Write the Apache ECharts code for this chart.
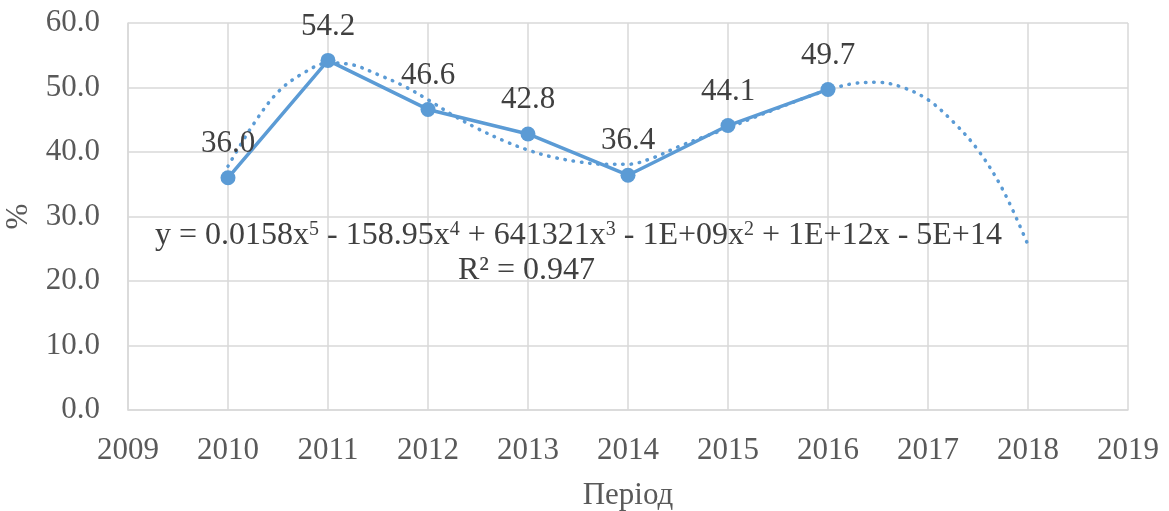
<!DOCTYPE html>
<html>
<head>
<meta charset="utf-8">
<script src="https://cdn.jsdelivr.net/npm/echarts@6/dist/echarts.min.js"></script>
<style>
  html, body { margin: 0; padding: 0; background: #fff; }
  #chart { width: 1169px; height: 511px; }
</style>
</head>
<body>
<div id="chart"></div>
<script>
// actual values
var years = [2010, 2011, 2012, 2013, 2014, 2015, 2016]
var values = [36.0, 54.2, 46.6, 42.8, 36.4, 44.1, 49.7]

// polynomial trendline
var trendYears = [2010, 2010.25, 2010.5, 2010.75, 2011, 2011.25, 2011.5, 2011.75, 2012, 2012.25, 2012.5, 2012.75,
  2013, 2013.25, 2013.5, 2013.75, 2014, 2014.25, 2014.5, 2014.75, 2015, 2015.25, 2015.5, 2015.75,
  2016, 2016.25, 2016.5, 2016.75, 2017, 2017.25, 2017.5, 2017.75, 2018]
var trendValues = [37.8, 44.2, 49.3, 52.2, 53.8, 53.5, 52.0, 50.3, 48.1, 45.7, 43.6, 41.8,
  40.3, 39.2, 38.5, 38.1, 38.1, 39.1, 40.8, 42.3, 43.7, 45.3, 46.8, 48.3,
  49.6, 50.6, 50.8, 50.0, 48.1, 44.7, 40.3, 34.1, 25.6]

var xMin = 2009, xMax = 2019
var yMin = 0, yMax = 60, yStep = 10

var font = "'Liberation Serif', 'Times New Roman', serif"
var blue = '#5B9BD5'
var fs = 31

function pairs(xs, ys) {
  return xs.map(function (x, i) { return [x, ys[i]] })
}

var chart = echarts.init(document.getElementById('chart'))
chart.setOption({
  animation: false,
  grid: { left: 128, right: 41, top: 23, bottom: 101, outerBoundsMode: 'none' },
  xAxis: {
    type: 'value',
    min: xMin,
    max: xMax,
    interval: 1,
    name: 'Період',
    nameLocation: 'middle',
    nameGap: 70,
    nameTextStyle: { fontFamily: font, fontSize: fs, color: '#595959' },
    axisLine: { show: true, lineStyle: { color: '#D9D9D9', width: 1.5 } },
    axisTick: { show: false },
    axisLabel: {
      margin: 25,
      fontFamily: font,
      fontSize: fs,
      color: '#595959',
      formatter: function (v) { return String(v) }
    },
    splitLine: { show: true, lineStyle: { color: '#D9D9D9', width: 1.5 } }
  },
  yAxis: {
    type: 'value',
    min: yMin,
    max: yMax,
    interval: yStep,
    name: '%',
    nameLocation: 'middle',
    nameGap: 93,
    nameRotate: 90,
    nameTextStyle: { fontFamily: font, fontSize: fs, color: '#595959' },
    axisLine: { show: true, lineStyle: { color: '#D9D9D9', width: 1.5 } },
    axisTick: { show: false },
    axisLabel: {
      margin: 28,
      fontFamily: font,
      fontSize: fs,
      color: '#595959',
      formatter: function (v) { return v.toFixed(1) }
    },
    splitLine: { show: true, lineStyle: { color: '#D9D9D9', width: 1.5 } }
  },
  series: [{
    name: 'trend',
    type: 'line',
    data: pairs(trendYears, trendValues),
    smooth: 0.35,
    symbol: 'none',
    z: 2,
    lineStyle: { color: blue, width: 3.5, type: [0.5, 7.8], cap: 'round' }
  }, {
    name: 'value',
    type: 'line',
    data: pairs(years, values),
    symbol: 'circle',
    symbolSize: 15,
    z: 3,
    itemStyle: { color: blue },
    lineStyle: { color: blue, width: 3.5 },
    label: {
      show: true,
      position: 'top',
      distance: 11,
      fontFamily: font,
      fontSize: fs,
      color: '#404040',
      formatter: function (p) { return p.value[1].toFixed(1) }
    }
  }],
  graphic: [{
    type: 'text',
    left: 155,
    top: 220,
    z: 10,
    style: {
      text: 'y = 0.0158x{s|5} - 158.95x{s|4} + 641321x{s|3} - 1E+09x{s|2} + 1E+12x - 5E+14',
      font: '32px ' + font,
      fill: '#404040',
      rich: {
        s: { fontSize: 20, fontFamily: font, fill: '#404040', verticalAlign: 'top', padding: [0, 0, 12, 0] }
      }
    }
  }, {
    type: 'text',
    left: 458,
    top: 255,
    z: 10,
    style: {
      text: 'R² = 0.947',
      font: '32px ' + font,
      fill: '#404040'
    }
  }]
})
</script>
</body>
</html>
